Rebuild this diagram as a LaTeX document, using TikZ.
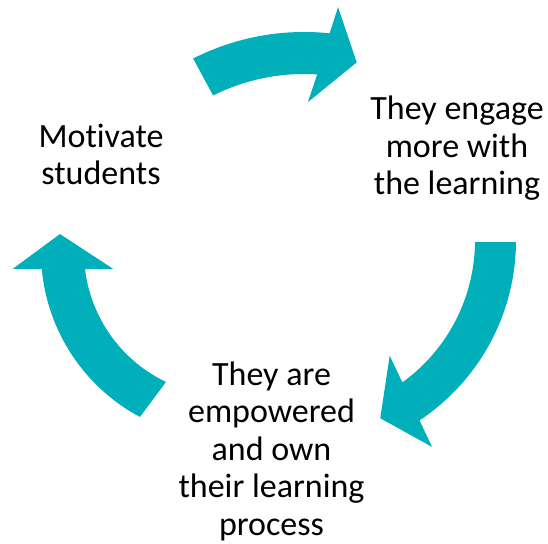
\documentclass[tikz,border=0pt]{standalone}
\usepackage{fontspec}
\setmainfont{Carlito}[Ligatures=NoCommon]
\usepackage{tikz}

\definecolor{cycleteal}{RGB}{0,175,185}

\begin{document}
\begin{tikzpicture}[
    x=1pt, y=1pt,
    stagetext/.style={align=center, inner sep=0pt, anchor=base, font=\fontsize{34}{37.5}\selectfont},
    turnarrow/.style={fill=cycleteal, draw=none},
]
\useasboundingbox (0,0) rectangle (548,543);

% base anchor sits on the last line
\node[stagetext] (motivate) at (101,358) {Motivate\\students};
\node[stagetext] (engage) at (457,348) {They engage\\more with\\the learning};
\node[stagetext] (empower) at (271.5,8) {They are\\empowered\\and own\\their learning\\process};

% motivate -> engage
\begin{scope}[shift={(304,266)}]
  \fill[turnarrow] (116.9:245) arc[start angle=116.9, end angle=84, radius=245]
    -- (82.8:272) -- (76.2:221) -- (88.7:175) -- (86.3:203)
    arc[start angle=86.3, end angle=116.6, radius=203] -- cycle;
\end{scope}

% engage -> empower
\begin{scope}[shift={(300,302.5)}]
  \fill[turnarrow] (-0.4:216) arc[start angle=-0.4, end angle=-56.4, radius=216]
    -- (-57.4:245) -- (-65.7:195) -- (-52.1:146) -- (-54.2:175)
    arc[start angle=-54.2, end angle=-0.5, radius=175] -- cycle;
\end{scope}

% empower -> motivate
\begin{scope}[shift={(228,291)}]
  \fill[turnarrow] (241.9:187) arc[start angle=241.9, end angle=185.2, radius=187]
    -- (184.5:216) -- (173.9:169) -- (188.4:116) -- (186.8:144)
    arc[start angle=186.8, end angle=244.5, radius=144] -- cycle;
\end{scope}
\end{tikzpicture}
\end{document}
